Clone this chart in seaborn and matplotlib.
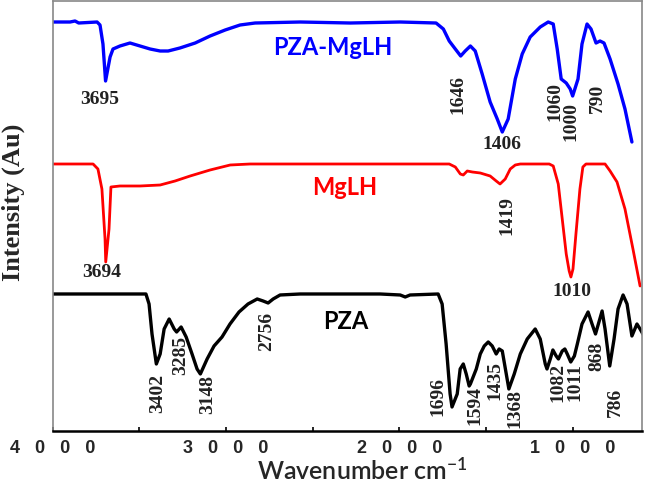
import numpy as np
import pandas as pd
import matplotlib
matplotlib.use("Agg")
import matplotlib.pyplot as plt
import matplotlib.transforms as mtransforms
import seaborn as sns


# FTIR spectra (wavenumber, relative intensity)
pza_mglh_wn = [4000, 3900, 3871, 3850, 3744, 3727, 3710, 3695, 3669, 3652, 3612, 3554, 3496, 3438,
               3380, 3334, 3266, 3178, 3092, 3005, 2919, 2832, 2572, 2283, 1995, 1788, 1746, 1712,
               1677, 1646, 1620, 1590, 1562, 1522, 1476, 1435, 1406, 1372, 1331, 1291, 1245, 1187,
               1141, 1112, 1089, 1066, 1037, 1014, 1000, 969, 946, 917, 894, 865, 842, 819, 784,
               738, 698, 658]
pza_mglh_int = [409, 409, 410, 408, 409, 406, 387, 350, 374, 382, 385, 388, 385, 382,
                380, 380, 383, 388, 395, 401, 406, 408, 409, 408, 409, 408, 402, 390,
                382, 375, 380, 385, 380, 357, 329, 312, 299, 312, 352, 377, 394, 404,
                409, 407, 382, 352, 348, 342, 335, 352, 387, 407, 402, 388, 390, 388, 372,
                347, 322, 289]

mglh_wn = [4000, 3900, 3767, 3739, 3716, 3698, 3694, 3675, 3664, 3612, 3496, 3380, 3294, 3207,
           3092, 2976, 2861, 2572, 1995, 1712, 1677, 1648, 1631, 1608, 1579, 1533, 1476, 1441,
           1419, 1389, 1360, 1331, 1302, 1135, 1112, 1083, 1060, 1037, 1020, 1010, 998, 981,
           958, 941, 923, 813, 784, 744, 698, 652, 611]
mglh_int = [267, 267, 267, 262, 242, 192, 169, 202, 244, 245, 245, 246, 250, 255,
            261, 266, 267, 267, 267, 267, 264, 257, 256, 260, 259, 258, 255, 250,
            247, 252, 262, 266, 267, 267, 265, 247, 212, 177, 160, 154, 162, 197,
            242, 264, 267, 267, 260, 249, 222, 182, 145]

pza_wn = [4000, 3727, 3462, 3444, 3427, 3402, 3380, 3357, 3328, 3299, 3285, 3259, 3230, 3196,
          3167, 3148, 3109, 3069, 3023, 2977, 2925, 2873, 2820, 2786, 2757, 2728, 2688, 2572,
          2111, 1995, 1966, 1938, 1776, 1753, 1730, 1707, 1696, 1666, 1649, 1631, 1614, 1597,
          1590, 1556, 1533, 1510, 1487, 1464, 1441, 1424, 1406, 1383, 1368, 1337, 1302, 1262,
          1216, 1187, 1158, 1148, 1129, 1114, 1095, 1082, 1060, 1045, 1031, 1011, 990, 973,
          946, 911, 888, 868, 830, 813, 786, 761, 738, 709, 686, 658, 629, 611, 588]
pza_int = [137, 137, 137, 127, 97, 67, 77, 102, 112, 102, 99, 104, 94, 77,
           62, 57, 72, 85, 94, 107, 119, 127, 132, 130, 128, 132, 136, 137,
           137, 136, 134, 136, 137, 127, 87, 37, 24, 37, 62, 67, 57, 45,
           47, 62, 77, 85, 89, 85, 77, 82, 80, 57, 42, 57, 77, 92,
           102, 92, 67, 62, 72, 81, 75, 72, 80, 82, 77, 69, 75, 87,
           107, 119, 107, 97, 120, 102, 65, 92, 122, 136, 127, 95, 107, 102, 95]

# peak annotations: (text, wavenumber, intensity, rotation)
blue_labels = [("3695", 3727, 332, 0), ("1646", 1661, 338, 90), ("1406", 1408, 287, 0),
               ("1060", 1102, 330, 90), ("1000", 1009, 310, 90), ("790", 858, 334, 90)]
red_labels = [("3694", 3716, 159, 0), ("1419", 1379, 216, 90), ("1010", 1004, 140, 0)]
black_labels = [("3402", 3392, 39, 90), ("3285", 3259, 77, 90), ("3148", 3103, 37, 90),
                ("2756", 2763, 101, 90), ("1696", 1776, 35, 90), ("1594", 1563, 26, 90),
                ("1435", 1448, 51, 90), ("1368", 1333, 23, 90), ("1082", 1082, 50, 90),
                ("1011", 986, 50, 90), ("868", 859, 76, 90), ("786", 756, 30, 90)]

major_ticks = [4000, 3000, 2000, 1000]
minor_ticks = [3500, 2500, 1500]
tick_labels = ["4   0   0   0", "3   0   0   0", "2   0   0   0", "1   0   0   0"]

sns.set_theme(style="white")
plt.rcParams["mathtext.fontset"] = "custom"
plt.rcParams["mathtext.rm"] = "Lato:semibold"
plt.rcParams["mathtext.it"] = "Lato:semibold"

fig = plt.figure(figsize=(6.45, 4.89), dpi=100)
ax = fig.add_axes([0.0817, 0.1166, 0.9136, 0.8793])

sns.lineplot(x=pza_mglh_wn, y=pza_mglh_int, color="#0000ff", linewidth=2.4, sort=False, ax=ax)
sns.lineplot(x=mglh_wn, y=mglh_int, color="#ff0000", linewidth=2.0, sort=False, ax=ax)
sns.lineplot(x=pza_wn, y=pza_int, color="black", linewidth=2.4, sort=False, ax=ax)

ax.set_xlim(4000, 600)
ax.set_ylim(0, 430)

serif = dict(family="Liberation Serif", fontweight="bold", fontsize=14, color="#222222")
for labels in (blue_labels, red_labels, black_labels):
    for txt, x, y, rot in labels:
        ax.text(x, y, txt, rotation=rot, ha="center", va="center", **serif)

ax.text(2382, 385, "PZA-MgLH", color="#0000ff", family="Lato", fontweight="bold",
        fontsize=17, ha="center", va="center")
ax.text(2313, 244, "MgLH", color="#ff0000", family="Lato", fontweight="bold",
        fontsize=17, ha="center", va="center")
ax.text(2308, 110, "PZA", color="black", family="Lato", fontweight="bold",
        fontsize=17, ha="center", va="center")

ax.set_xticks(major_ticks)
ax.set_xticks(minor_ticks, minor=True)
ax.set_xticklabels(tick_labels, family="Liberation Sans", fontweight="bold", fontsize=13)
shift = mtransforms.ScaledTranslation(-4 / 100, 0, fig.dpi_scale_trans)
for lbl in ax.get_xticklabels():
    lbl.set_transform(lbl.get_transform() + shift)
ax.set_yticks([])
ax.tick_params(axis="x", which="both", direction="in", length=3, width=1.2, color="black",
               bottom=True, pad=6)
ax.set_xlabel("Wavenumber cm$^{-1}$", family="Lato", fontweight="semibold", fontsize=18)
ax.xaxis.set_label_coords(0.525, -0.058)
ax.set_ylabel("Intensity (Au)", family="Liberation Serif", fontweight="bold", fontsize=19)
ax.yaxis.set_label_coords(-0.047, 0.535)

for side in ("left", "top", "right"):
    ax.spines[side].set_color("#888888")
    ax.spines[side].set_linewidth(1.2)
ax.spines["bottom"].set_color("black")
ax.spines["bottom"].set_linewidth(1.8)

fig.savefig("out.png", dpi=100)
